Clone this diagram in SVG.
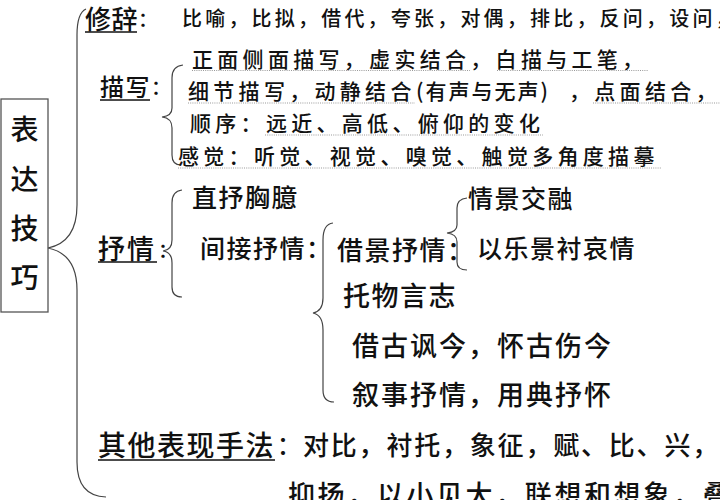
<svg xmlns="http://www.w3.org/2000/svg" width="720" height="500" viewBox="0 0 720 500">
<style>
text{font-family:"Noto Sans CJK SC","Noto Sans CJK TC",sans-serif;fill:#111;font-weight:500}
.brace{fill:none;stroke:#444;stroke-width:1.2}
.ul{stroke:#111;stroke-width:1.6}
.dot{stroke:#999;stroke-width:1.2;stroke-dasharray:1 1.2}
.s1{font-size:20px;letter-spacing:3.2px}
.s2{font-size:21px;letter-spacing:4.3px}
.lab{font-size:27px;letter-spacing:2px}
.m{font-size:25px;letter-spacing:1.5px}
</style>
<rect width="720" height="500" fill="#fff"/>
<g id="root">
<rect x="1" y="99" width="47" height="213" fill="#fff" stroke="#555" stroke-width="1.3"/>
<text x="24.5" y="140" font-size="28" text-anchor="middle">表</text>
<text x="24.5" y="190" font-size="28" text-anchor="middle">达</text>
<text x="24.5" y="239" font-size="28" text-anchor="middle">技</text>
<text x="24.5" y="288" font-size="28" text-anchor="middle">巧</text>
</g>
<g id="connectors">
<path class="brace" d="M86,9 Q77,13 77,35 L77,205 Q77,242 48,248 Q77,254 77,290 L77,462 Q77,496 106,497"/>
<path class="brace" d="M183,65 Q172,66 172,78 L172,108 Q172,116 162,117 Q172,118 172,128 L172,155 Q172,165 181,165"/>
<path class="brace" d="M182,190 Q172,191 172,203 L172,240 Q172,250 163,251 Q172,252 172,263 L172,287 Q172,297 182,297"/>
<path class="brace" d="M333,223 Q323,224 323,240 L323,298 Q323,311 313,313 Q323,315 323,330 L323,390 Q323,402 334,402"/>
<path class="brace" d="M467,198 Q457,199 457,208 L457,225 Q457,232 447,233 Q457,234 457,242 L457,262 Q457,270 467,270"/>
</g>
<g id="xiuci">
<text x="85" y="29" font-size="26" letter-spacing="0.5">修辞</text>
<line class="ul" x1="85" y1="32" x2="137" y2="32"/>
<text x="138" y="27" font-size="20">：</text>
<text x="182" y="26" class="s1">比喻，比拟，借代，夸张，对偶，排比，反问，设问<tspan letter-spacing="0">，</tspan></text>
</g>
<g id="miaoxie">
<text x="100" y="96" font-size="24" letter-spacing="1.5">描写</text>
<line class="ul" x1="100" y1="100" x2="150" y2="100"/>
<text x="151" y="95" font-size="20">：</text>
<text x="192" y="67" class="s2">正面侧面描写，虚实结合，白描与工笔，</text>
<line class="dot" x1="192" y1="70.5" x2="470" y2="70.5"/>
<line class="dot" x1="497" y1="70.5" x2="648" y2="70.5"/>
<text x="188" y="99" class="s2">细节描写，动静结合<tspan x="416" letter-spacing="2">(有声与无声)</tspan><tspan x="569">，点面结合，</tspan></text>
<line class="dot" x1="188" y1="103" x2="415" y2="103"/>
<line class="dot" x1="593" y1="103" x2="720" y2="103"/>
<text x="190" y="131" class="s2" letter-spacing="4">顺序：远近、高低、俯仰的变化</text>
<line class="dot" x1="265" y1="135" x2="543" y2="135"/>
<text x="178" y="164" class="s2" letter-spacing="4.6">感觉：听觉、视觉、嗅觉、触觉多角度描摹</text>
<line class="dot" x1="178" y1="168" x2="662" y2="168"/>
</g>
<g id="shuqing">
<text x="98" y="259" class="lab">抒情</text>
<line class="ul" x1="98" y1="262" x2="157" y2="262"/>
<text x="158" y="258" font-size="20">：</text>
</g>
<g id="zhishu">
<text x="192" y="207" class="m">直抒胸臆</text>
</g>
<g id="jianjie">
<text x="200" y="258" class="m" letter-spacing="1.3">间接抒情：</text>
</g>
<g id="jiejing">
<text x="337" y="260" font-size="26" letter-spacing="1.5">借景抒情：</text>
</g>
<g id="qingjing">
<text x="468" y="208" class="m" letter-spacing="1.3">情景交融</text>
</g>
<g id="yile">
<text x="477" y="258" class="m" letter-spacing="1.7">以乐景衬哀情</text>
</g>
<g id="tuowu">
<text x="343" y="306" font-size="27" letter-spacing="1.5">托物言志</text>
</g>
<g id="jiegu">
<text x="352" y="356" font-size="27" letter-spacing="2">借古讽今，怀古伤今</text>
</g>
<g id="xushi">
<text x="352" y="405" font-size="27" letter-spacing="2">叙事抒情，用典抒怀</text>
</g>
<g id="qita">
<text x="98" y="456" font-size="28" letter-spacing="1.5">其他表现手法</text>
<line class="ul" x1="98" y1="460" x2="275" y2="460"/>
<text x="277" y="454" font-size="24">：</text>
<text x="303" y="455" font-size="26" letter-spacing="1.8">对比，衬托，象征，赋、比、兴，</text>
<text x="288" y="505" font-size="27" letter-spacing="2.6">抑扬，以小见大，联想和想象，叠词</text>
</g>
</svg>
